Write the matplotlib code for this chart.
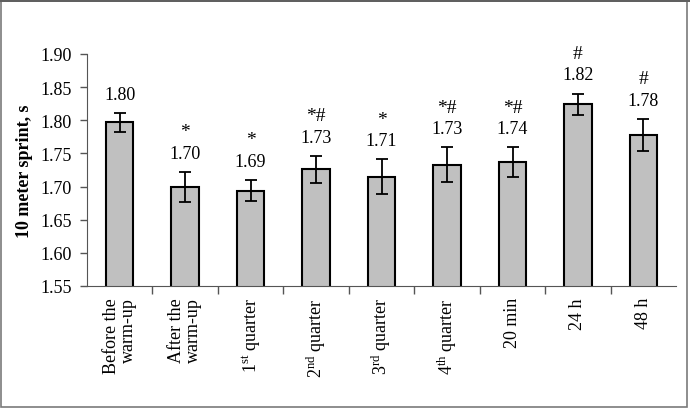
import numpy as np
import matplotlib
matplotlib.use("Agg")
import matplotlib.pyplot as plt
from matplotlib.patches import Rectangle

plt.rcParams['font.family'] = ['Liberation Serif', 'DejaVu Serif']
plt.rcParams['mathtext.fontset'] = 'custom'
plt.rcParams['mathtext.rm'] = 'Liberation Serif'
plt.rcParams['mathtext.it'] = 'Liberation Serif:italic'
plt.rcParams['mathtext.bf'] = 'Liberation Serif:bold'

# data
categories = ["Before the\nwarm-up", "After the\nwarm-up", r"1$^{\mathrm{st}}$ quarter",
              r"2$^{\mathrm{nd}}$ quarter", r"3$^{\mathrm{rd}}$ quarter",
              r"4$^{\mathrm{th}}$ quarter", "20 min", "24 h", "48 h"]
means = [1.797, 1.699, 1.694, 1.726, 1.715, 1.733, 1.737, 1.824, 1.778]
errors = [0.014, 0.023, 0.016, 0.020, 0.026, 0.026, 0.022, 0.016, 0.024]
value_labels = ["1.80", "1.70", "1.69", "1.73", "1.71", "1.73", "1.74", "1.82", "1.78"]
signif = ["", "*", "*", "*#", "*", "*#", "*#", "#", "#"]
yticks = [1.55, 1.60, 1.65, 1.70, 1.75, 1.80, 1.85, 1.90]

fig = plt.figure(figsize=(6.9, 4.1), dpi=100)
ax = fig.add_axes([0.126, 0.30, 0.854, 0.566])

x = np.arange(len(categories))
ax.bar(x, means, width=0.42, color='#c0c0c0', edgecolor='black', linewidth=1.5, zorder=2)
ax.errorbar(x, means, yerr=errors, fmt='none', ecolor='black', elinewidth=1.3,
            capsize=4, capthick=1.3, zorder=3)

# value labels and significance marks
for i in range(len(categories)):
    top = means[i] + errors[i]
    ax.annotate(value_labels[i], (x[i], top), xytext=(0, 13.5), textcoords='offset points',
                ha='center', va='center', fontsize=13)
    if signif[i]:
        ax.annotate(signif[i], (x[i], top), xytext=(0, 29), textcoords='offset points',
                    ha='center', va='center', fontsize=14)

ax.set_ylim(1.55, 1.90)
ax.set_xlim(-0.5, len(categories) - 0.5)
ax.set_yticks(yticks)
ax.set_yticklabels(["%.2f" % v for v in yticks], fontsize=13)
ax.set_ylabel("10 meter sprint, s", fontsize=13, fontweight='bold', labelpad=5)

ax.set_xticks(np.arange(0.5, len(categories) - 1, 1.0))
ax.set_xticklabels([])
ax.set_xticks(x, minor=True)
ax.set_xticklabels(categories, minor=True, rotation=90, fontsize=13,
                   va='top', ha='center', multialignment='right', linespacing=1.0)
ax.tick_params(axis='x', which='major', direction='out', length=6, width=1, color='#555555')
ax.tick_params(axis='x', which='minor', length=0, pad=8)
ax.tick_params(axis='y', direction='out', length=5, width=1, color='#555555', pad=6)

ax.spines['top'].set_visible(False)
ax.spines['right'].set_visible(False)
ax.spines['left'].set_color('#555555')
ax.spines['bottom'].set_color('#555555')

# outer frame
fig.patches.append(Rectangle((0.002, 0.004), 0.994, 0.99, transform=fig.transFigure,
                             fill=False, edgecolor='#7a7a7a', linewidth=1.2))
fig.patches.append(Rectangle((0, 0.993), 1, 0.007, transform=fig.transFigure,
                             color='#606060', linewidth=0))

fig.savefig("out.png", dpi=100)
